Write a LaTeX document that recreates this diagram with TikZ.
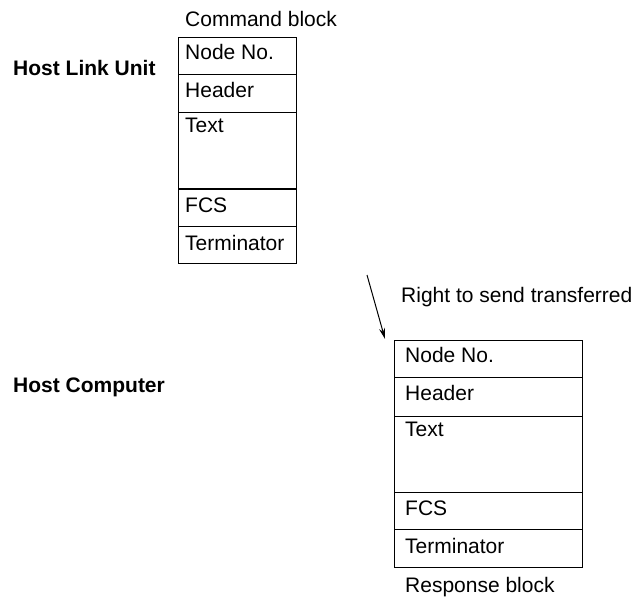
\documentclass[tikz,border=0pt]{standalone}
\usepackage{fontspec}
\setmainfont{Liberation Sans}
\usetikzlibrary{arrows.meta}
\begin{document}
\begin{tikzpicture}[x=1pt,y=-1pt,
  every node/.style={font=\fontsize{21}{25}\selectfont, inner sep=0pt},
  cell/.style={draw, line width=1pt, anchor=north west, minimum width=#1, outer sep=0pt},
  celltext/.style={anchor=base west},
  sep/.style={line width=2pt},
  heading/.style={anchor=base west, font=\fontsize{21}{25}\selectfont\bfseries},
  caption/.style={anchor=base west}]
\useasboundingbox (0,0) rectangle (634,601);
% Command block
\node[caption] (cmdlbl) at (185,27) {Command block};
\node[cell=118, minimum height=37] (c1) at (178,38) {};
\node[cell=118, minimum height=38] (c2) at (178,75) {};
\node[cell=118, minimum height=76] (c3) at (178,113) {};
\node[cell=118, minimum height=38] (c4) at (178,189) {};
\node[cell=118, minimum height=37] (c5) at (178,227) {};
\draw[sep] (c3.south west) -- (c3.south east);
\node[celltext] (t1) at (185,60) {Node No.};
\node[celltext] (t2) at (185,98) {Header};
\node[celltext] (t3) at (185,133) {Text};
\node[celltext] (t4) at (185,213) {FCS};
\node[celltext] (t5) at (185,251) {Terminator};
% Labels
\node[heading] (hlu) at (13,76) {Host Link Unit};
\node[heading] (hc) at (13,392) {Host Computer};
% Arrow
\coordinate (as) at (367,275);
\coordinate (ae) at (385,339);
\draw[line width=1pt, -{Stealth[length=11pt,width=6pt]}] (as) -- (ae);
\node[caption] (rts) at (401,303) {Right to send transferred};
% Response block
\node[cell=188, minimum height=37] (r1) at (394,340) {};
\node[cell=188, minimum height=39] (r2) at (394,377) {};
\node[cell=188, minimum height=76] (r3) at (394,416) {};
\node[cell=188, minimum height=37] (r4) at (394,492) {};
\node[cell=188, minimum height=38] (r5) at (394,529) {};
\node[celltext] (s1) at (405,362) {Node No.};
\node[celltext] (s2) at (405,400) {Header};
\node[celltext] (s3) at (405,436) {Text};
\node[celltext] (s4) at (405,515) {FCS};
\node[celltext] (s5) at (405,553) {Terminator};
\node[caption] (resplbl) at (405,592) {Response block};
\end{tikzpicture}
\end{document}
